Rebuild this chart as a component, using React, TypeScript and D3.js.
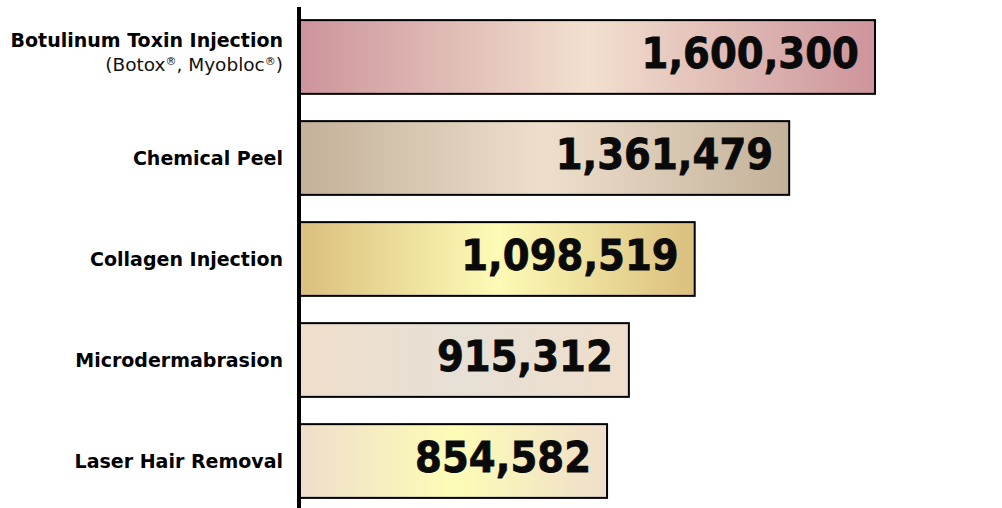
import React from 'react';
import * as d3 from 'd3';

const categories = ['Botulinum Toxin Injection', 'Chemical Peel', 'Collagen Injection', 'Microdermabrasion', 'Laser Hair Removal'];
const values = [1600300, 1361479, 1098519, 915312, 854582];
const subLabels = ['(Botox\u00AE, Myobloc\u00AE)', '', '', '', ''];
// edge colour, middle colour for each bar's gradient
const edgeColors = ['#cd949b', '#c3b199', '#dbbf7e', '#efdecb', '#efdecb'];
const midColors = ['#f2e0cf', '#eedfcc', '#fdfbb6', '#e6e0d6', '#fdfcb6'];

const W = 1002;
const H = 508;
const axisX = 300;
const labelFont = "'DejaVu Sans', sans-serif";

export default function App() {
  const x = d3.scaleLinear().domain([0, d3.max(values) as number]).range([axisX, 875]);
  const y = d3.scaleBand<string>().domain(categories).range([8, 510]).paddingInner(0.27).paddingOuter(0.12);
  const fmt = d3.format(',');

  return (
    <svg width={W} height={H} style={{ position: 'absolute', left: 0, top: 0, background: '#fff' }}>
      <defs>
        {categories.map((c, i) => (
          <linearGradient key={c} id={'g' + i} x1="0" x2="1" y1="0" y2="0">
            <stop offset="0" stopColor={edgeColors[i]} />
            <stop offset="0.5" stopColor={midColors[i]} />
            <stop offset="1" stopColor={edgeColors[i]} />
          </linearGradient>
        ))}
      </defs>
      {categories.map((c, i) => {
        const y0 = y(c) as number;
        const bw = y.bandwidth();
        const cy = y0 + bw / 2;
        return (
          <g key={c}>
            <rect x={x(0)} y={y0} width={x(values[i]) - x(0)} height={bw}
              fill={`url(#g${i})`} stroke="#000" strokeWidth={2} />
            <text transform={`translate(${x(values[i]) - 16},${cy + 11}) scale(0.92,1)`} textAnchor="end"
              fontFamily="'DejaVu Sans', sans-serif" fontWeight="bold" fontSize={42} fill="#0a0a0a"
              stroke="#0a0a0a" strokeWidth={0.8}>
              {fmt(values[i])}
            </text>
            {subLabels[i] ? (
              <>
                <text x={283} y={cy - 10} textAnchor="end" fontFamily={labelFont}
                  fontWeight="bold" fontSize={19} fill="#000">{c}</text>
                <text x={283} y={cy + 14} textAnchor="end" fontFamily={labelFont}
                  fontSize={18.5} fill="#111">
                  (Botox<tspan fontSize={11} dy={-6}>{'\u00AE'}</tspan>
                  <tspan dy={6}>, Myobloc</tspan>
                  <tspan fontSize={11} dy={-6}>{'\u00AE'}</tspan>
                  <tspan dy={6}>)</tspan>
                </text>
              </>
            ) : (
              <text x={283} y={cy} dy="0.36em" textAnchor="end" fontFamily={labelFont}
                fontWeight="bold" fontSize={19} fill="#000">{c}</text>
            )}
          </g>
        );
      })}
      <line x1={axisX - 1} x2={axisX - 1} y1={7} y2={H} stroke="#000" strokeWidth={4} />
    </svg>
  );
}
